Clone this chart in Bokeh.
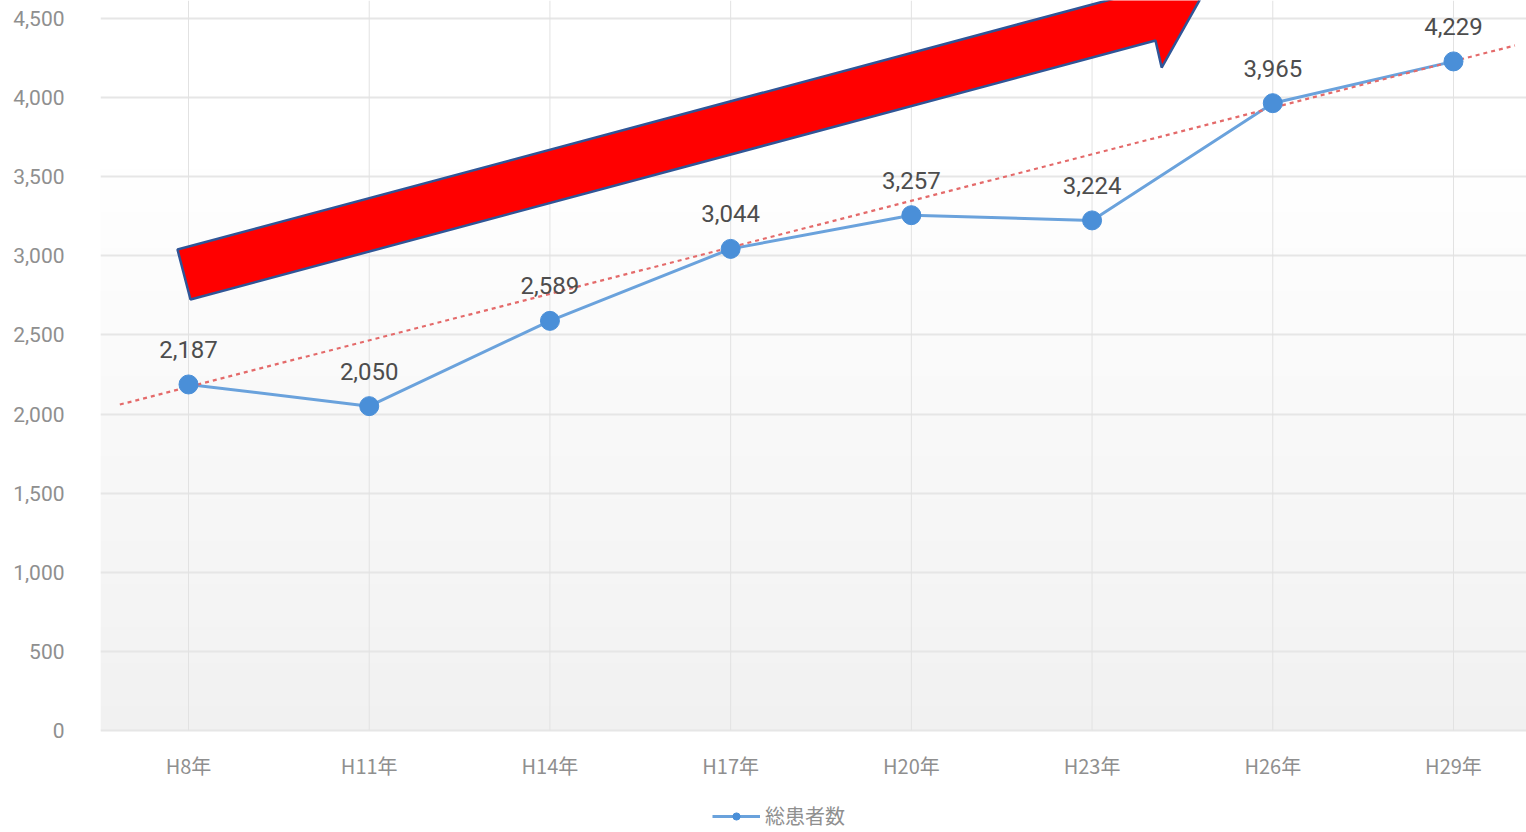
import numpy as np
from bokeh.plotting import figure
from bokeh.models import (ColumnDataSource, FixedTicker, NumeralTickFormatter,
                          Legend, LegendItem, Range1d)
from bokeh.core.properties import value
from bokeh.embed import file_html
from bokeh.resources import INLINE

# ---- data ----
categories = ["H8年", "H11年", "H14年", "H17年", "H20年", "H23年", "H26年", "H29年"]
patients = [2187, 2050, 2589, 3044, 3257, 3224, 3965, 4229]
value_labels = ["2,187", "2,050", "2,589", "3,044", "3,257", "3,224", "3,965", "4,229"]
y_ticks = [0, 500, 1000, 1500, 2000, 2500, 3000, 3500, 4000, 4500]

# hand-drawn trend line (start/end, in category index / value units)
trend_x = [-0.38, 7.34]
trend_y = [2060, 4330]

# decorative arrow outline (category index / value units)
arrow_x = [-0.061, 0.011, 5.351, 5.385, 5.656, 5.495]
arrow_y = [3040, 2724, 4361, 4190, 4740, 4740]

x_idx = list(range(len(categories)))

Y_TOP = 4614
Y_BOTTOM = -645          # frame extends below 0 to hold category labels + legend
CAT_LABEL_Y = -221

p = figure(width=1526, height=832, output_backend="svg", toolbar_location=None,
           x_range=Range1d(-0.487, 7.404), y_range=Range1d(Y_BOTTOM, Y_TOP),
           min_border_left=100, min_border_right=0, min_border_top=0,
           min_border_bottom=0)
p.outline_line_color = None
p.background_fill_color = "white"
p.border_fill_color = "white"

# background gradient (plot area only, from 0 upward)
n = 120
grad = np.zeros((n, 1), dtype=np.uint32)
view = grad.view(dtype=np.uint8).reshape((n, 1, 4))
for i in range(n):
    t = i / (n - 1)  # 0 bottom -> 1 top
    c = int(round(241 + (255 - 241) * min(1.0, t * 1.25)))
    view[i, 0, :] = [c, c, c, 255]
p.image_rgba(image=[grad], x=-0.487, y=0, dw=7.891, dh=Y_TOP, level="image")

# axes
p.xaxis.visible = False
p.yaxis.ticker = FixedTicker(ticks=y_ticks)
p.yaxis.formatter = NumeralTickFormatter(format="0,0")
p.yaxis.axis_line_color = None
p.yaxis.major_tick_line_color = None
p.yaxis.minor_tick_line_color = None
p.yaxis.major_label_text_color = "#8f8f8f"
p.yaxis.major_label_text_font = "Roboto"
p.yaxis.major_label_text_font_size = "21px"
p.yaxis.major_label_standoff = 30

p.xgrid.visible = False
p.ygrid.ticker = FixedTicker(ticks=y_ticks)
p.ygrid.grid_line_color = "#e6e6e6"
p.ygrid.grid_line_width = 2

# vertical category grid lines (from 0 upward)
p.segment(x0=x_idx, y0=[0] * len(x_idx), x1=x_idx, y1=[Y_TOP] * len(x_idx),
          line_color="#e2e2e2", line_width=1)

# category labels
p.text(x=x_idx, y=[CAT_LABEL_Y] * len(x_idx), text=categories, text_align="center",
       text_baseline="middle", text_font=value("Noto Sans CJK JP"),
       text_font_size="20px", text_color="#8f8f8f")

src = ColumnDataSource(dict(x=x_idx, y=patients, lab=value_labels))

line_r = p.line("x", "y", source=src, line_color="#6aa2dc", line_width=3)
p.line(trend_x, trend_y, line_color="#e46a6a", line_width=2.2, line_dash="4 4")
p.scatter("x", "y", source=src, size=19, fill_color="#4a8fd8", line_color="#4a8fd8")
p.text("x", "y", text="lab", source=src, text_align="center", text_baseline="middle",
       y_offset=-35, text_font_size="24px", text_color="#4d4d4d",
       text_font=value("Roboto"))

# arrow
p.patch(arrow_x, arrow_y, fill_color="#ff0000", line_color="#2f5597", line_width=2.5)

# legend (small marker glyph)
lg_pt = p.scatter([float("nan")], [float("nan")], size=8, fill_color="#4a8fd8",
                  line_color="#4a8fd8")
legend = Legend(items=[LegendItem(label="総患者数", renderers=[line_r, lg_pt])],
                orientation="horizontal", location=(612, 2),
                label_text_font="Noto Sans CJK JP", label_text_font_size="20px",
                label_text_color="#8f8f8f", glyph_width=48, glyph_height=18,
                label_height=20,
                border_line_color=None, background_fill_alpha=0,
                padding=0, margin=0, label_standoff=5)
p.add_layout(legend, "center")

open("out.html", "w").write(file_html(p, INLINE))
